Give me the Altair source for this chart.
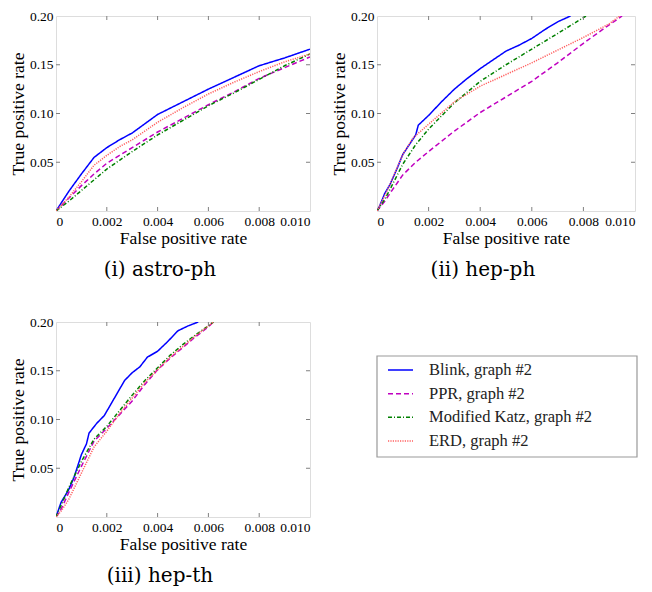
import altair as alt
import pandas as pd

methods = ["Blink, graph #2", "PPR, graph #2", "Modified Katz, graph #2", "ERD, graph #2"]
colors = ["#0000ff", "#c000c0", "#008000", "#ff6060"]
dashes = [[1, 0], [5, 3], [4, 2, 1, 2], [1.2, 1.2]]

x_ticks = [0, 0.002, 0.004, 0.006, 0.008, 0.010]
y_ticks = [0.05, 0.10, 0.15, 0.20]

# (i) astro-ph
astro_x = [0, 0.0005, 0.001, 0.0015, 0.002, 0.0025, 0.003, 0.004, 0.005, 0.006, 0.007, 0.008, 0.009, 0.010]
astro_blink = [0, 0.020, 0.038, 0.055, 0.065, 0.073, 0.080, 0.099, 0.112, 0.125, 0.137, 0.149, 0.157, 0.166]
astro_ppr = [0, 0.013, 0.026, 0.038, 0.049, 0.057, 0.065, 0.081, 0.095, 0.109, 0.122, 0.136, 0.147, 0.158]
astro_katz = [0, 0.010, 0.021, 0.032, 0.043, 0.052, 0.061, 0.078, 0.093, 0.108, 0.121, 0.135, 0.149, 0.161]
astro_erd = [0, 0.014, 0.030, 0.047, 0.057, 0.066, 0.073, 0.091, 0.106, 0.120, 0.132, 0.143, 0.153, 0.161]

# (ii) hep-ph
hepph_blink_x = [0, 0.0001, 0.0003, 0.0005, 0.0008, 0.001, 0.0013, 0.0015, 0.0016, 0.002, 0.0025, 0.003,
                 0.0035, 0.004, 0.0045, 0.005, 0.0055, 0.006, 0.0065, 0.007, 0.0075]
hepph_blink = [0, 0.005, 0.018, 0.027, 0.045, 0.058, 0.070, 0.078, 0.088, 0.098, 0.112, 0.125,
               0.136, 0.146, 0.155, 0.164, 0.170, 0.177, 0.186, 0.194, 0.200]
hepph_ppr_x = [0, 0.0003, 0.0005, 0.001, 0.0015, 0.002, 0.003, 0.004, 0.005, 0.006, 0.007, 0.008, 0.009, 0.0095]
hepph_ppr = [0, 0.010, 0.018, 0.037, 0.050, 0.061, 0.082, 0.101, 0.117, 0.133, 0.152, 0.172, 0.191, 0.200]
hepph_katz_x = [0, 0.0003, 0.0005, 0.001, 0.0015, 0.002, 0.003, 0.004, 0.005, 0.006, 0.007, 0.0081]
hepph_katz = [0, 0.012, 0.022, 0.048, 0.068, 0.084, 0.111, 0.133, 0.150, 0.166, 0.182, 0.200]
hepph_erd_x = [0, 0.0003, 0.0005, 0.001, 0.0014, 0.002, 0.003, 0.004, 0.005, 0.006, 0.007, 0.008, 0.009, 0.0094]
hepph_erd = [0, 0.016, 0.027, 0.058, 0.075, 0.089, 0.112, 0.128, 0.140, 0.152, 0.165, 0.178, 0.192, 0.200]

# (iii) hep-th
hepth_blink_x = [0, 0.0002, 0.0005, 0.0007, 0.001, 0.0012, 0.0013, 0.0016, 0.0019, 0.0023, 0.0027, 0.003,
                 0.0033, 0.0036, 0.004, 0.0044, 0.0048, 0.0052, 0.0056]
hepth_blink = [0, 0.015, 0.028, 0.040, 0.064, 0.075, 0.086, 0.096, 0.104, 0.122, 0.140, 0.148,
               0.154, 0.164, 0.170, 0.180, 0.191, 0.196, 0.200]
hepth_x = [0, 0.0002, 0.0005, 0.001, 0.0015, 0.002, 0.0025, 0.003, 0.0035, 0.004, 0.0045, 0.005, 0.0055, 0.006, 0.0062]
hepth_ppr = [0, 0.008, 0.025, 0.052, 0.078, 0.091, 0.105, 0.119, 0.136, 0.151, 0.163, 0.174, 0.185, 0.195, 0.200]
hepth_katz = [0, 0.012, 0.030, 0.057, 0.080, 0.093, 0.109, 0.125, 0.140, 0.153, 0.166, 0.177, 0.187, 0.196, 0.200]
hepth_erd = [0, 0.006, 0.018, 0.045, 0.072, 0.088, 0.106, 0.122, 0.138, 0.151, 0.164, 0.175, 0.186, 0.196, 0.200]

series = {
    "astro": [(astro_x, astro_blink), (astro_x, astro_ppr), (astro_x, astro_katz), (astro_x, astro_erd)],
    "hepph": [(hepph_blink_x, hepph_blink), (hepph_ppr_x, hepph_ppr), (hepph_katz_x, hepph_katz), (hepph_erd_x, hepph_erd)],
    "hepth": [(hepth_blink_x, hepth_blink), (hepth_x, hepth_ppr), (hepth_x, hepth_katz), (hepth_x, hepth_erd)],
}

rows = []
for pname, lst in series.items():
    for m, (xs, ys) in zip(methods, lst):
        for i, (xv, yv) in enumerate(zip(xs, ys)):
            rows.append({"panel": pname, "method": m, "fpr": xv, "tpr": yv, "i": i})
df = pd.DataFrame(rows)

SERIF = "Liberation Serif"
GREY = "#808080"

color_scale = alt.Scale(domain=methods, range=colors)
dash_scale = alt.Scale(domain=methods, range=dashes)


def panel(pname, w, h, caption):
    d = df[df["panel"] == pname]
    xs = alt.Scale(domain=[0, 0.01], nice=False, zero=False)
    ys = alt.Scale(domain=[0, 0.2], nice=False)
    lines = alt.Chart(d).mark_line(clip=True, strokeWidth=1.5).encode(
        x=alt.X("fpr:Q", scale=xs, axis=alt.Axis(
            values=x_ticks, labelExpr="datum.value == 0 ? '0' : format(datum.value, '.3f')",
            title="False positive rate", grid=False, domain=False, ticks=False,
            labelFont=SERIF, labelFontSize=13.5, labelColor="black", labelPadding=3,
            titleFont=SERIF, titleFontSize=17.5, titleFontWeight="normal", titleColor="black",
            titlePadding=2, labelOverlap=False)),
        y=alt.Y("tpr:Q", scale=ys, axis=alt.Axis(
            values=y_ticks, format=".2f", title="True positive rate", grid=False, domain=False, ticks=False,
            labelFont=SERIF, labelFontSize=13.5, labelColor="black", labelPadding=3,
            titleFont=SERIF, titleFontSize=17.5, titleFontWeight="normal", titleColor="black",
            titlePadding=2, labelOverlap=False)),
        color=alt.Color("method:N", scale=color_scale, legend=None),
        strokeDash=alt.StrokeDash("method:N", scale=dash_scale, legend=None),
        order="i:Q",
    )
    xt = pd.DataFrame({"fpr": x_ticks[1:-1]})
    yt = pd.DataFrame({"tpr": y_ticks[:-1]})
    tb = alt.Chart(xt).mark_rule(color=GREY, strokeWidth=1).encode(
        x=alt.X("fpr:Q", scale=xs), y=alt.value(h), y2=alt.value(h - 4))
    tt = alt.Chart(xt).mark_rule(color=GREY, strokeWidth=1).encode(
        x=alt.X("fpr:Q", scale=xs), y=alt.value(0), y2=alt.value(4))
    tl = alt.Chart(yt).mark_rule(color=GREY, strokeWidth=1).encode(
        y=alt.Y("tpr:Q", scale=ys), x=alt.value(0), x2=alt.value(4))
    tr = alt.Chart(yt).mark_rule(color=GREY, strokeWidth=1).encode(
        y=alt.Y("tpr:Q", scale=ys), x=alt.value(w - 4), x2=alt.value(w))
    return alt.layer(lines, tb, tt, tl, tr).properties(
        width=w, height=h,
        title=alt.TitleParams(caption, orient="bottom", font="DejaVu Serif", fontSize=20,
                              fontWeight="normal", color="black", frame="bounds",
                              anchor="middle", offset=13),
    )


H = 195
p1 = panel("astro", 254, H, "(i) astro-ph")
p2 = panel("hepph", 258, H, "(ii) hep-ph")
p3 = panel("hepth", 254, H, "(iii) hep-th")

# legend panel
LW, LH = 260, 135
leg_df = pd.DataFrame({"method": methods})
box = alt.Chart(pd.DataFrame({"a": [0]})).mark_rect(fill="white", stroke="#999999", strokeWidth=1.2).encode(
    x=alt.value(0), x2=alt.value(LW), y=alt.value(34), y2=alt.value(LH))
ly = alt.Y("method:N", scale=alt.Scale(domain=methods, type="point", range=[48, 119], padding=0), axis=None)
sym = alt.Chart(leg_df).mark_rule(strokeWidth=1.5).encode(
    x=alt.value(11), x2=alt.value(36), y=ly,
    color=alt.Color("method:N", scale=color_scale, legend=None),
    strokeDash=alt.StrokeDash("method:N", scale=dash_scale, legend=None))
txt = alt.Chart(leg_df).mark_text(align="left", baseline="middle", font=SERIF, fontSize=16.5, color="#222").encode(
    x=alt.value(52), y=ly, text="method:N")
leg = alt.layer(box, sym, txt).properties(width=LW, height=LH, view=alt.ViewBackground(strokeOpacity=0))

chart = alt.concat(p1, p2, p3, leg, columns=2, spacing={"row": 111, "column": 67}, bounds="flush").properties(
    padding={"left": 0, "top": 0, "right": 0, "bottom": 0}
).configure_view(stroke=GREY, strokeWidth=1.2).configure(background="white")

chart.save("out.html", embed_options={"renderer": "svg", "actions": False})
